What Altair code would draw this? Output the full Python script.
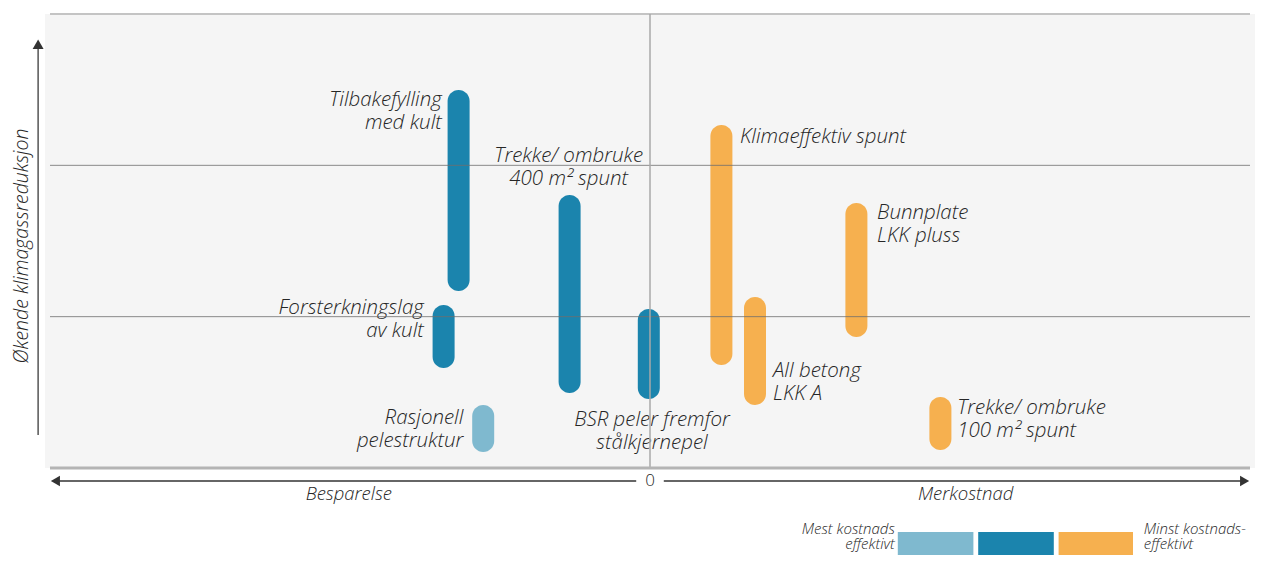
import altair as alt
import pandas as pd

# ---- data ----
names = ["Tilbakefylling med kult", "Forsterkningslag av kult", "Rasjonell pelestruktur",
         "Trekke/ ombruke 400 m² spunt", "BSR peler fremfor stålkjernepel",
         "Klimaeffektiv spunt", "All betong LKK A", "Bunnplate LKK pluss",
         "Trekke/ ombruke 100 m² spunt"]
cost = [-31.9, -34.4, -27.8, -13.4, -0.2, 11.9, 17.5, 34.4, 48.4]
red_low = [1.170, 0.661, 0.106, 0.496, 0.456, 0.681, 0.416, 0.866, 0.119]
red_high = [2.498, 1.077, 0.416, 1.804, 1.051, 2.267, 1.130, 1.751, 0.469]
group = ["Middels", "Middels", "Mest", "Middels", "Middels", "Minst", "Minst", "Minst", "Minst"]

label_text = ["Tilbakefylling\nmed kult", "Forsterkningslag\nav kult", "Rasjonell\npelestruktur",
              "Trekke/ ombruke\n400 m² spunt", "BSR peler fremfor\nstålkjernepel",
              "Klimaeffektiv spunt", "All betong\nLKK A", "Bunnplate\nLKK pluss",
              "Trekke/ ombruke\n100 m² spunt"]
label_x = [-34.7, -37.7, -31.1, -13.55, 0.33, 15.0, 20.5, 37.85, 51.2]
label_y = [2.432, 1.057, 0.330, 2.062, 0.317, 2.187, 0.641, 1.685, 0.396]
label_align = ["right", "right", "right", "center", "center", "left", "left", "left", "left"]

groups = ["Mest", "Middels", "Minst"]
colors = ["#7fb9cf", "#1b84ad", "#f6b04f"]
legend_x = [41.3, 54.7, 68.1]
legend_x2 = [53.9, 67.3, 80.5]

x_title_text = ["Besparelse", "Merkostnad"]
x_title_x = [-50.2, 52.6]

FONT = "Open Sans"
TXT = "#262626"

bars_df = pd.DataFrame({"name": names, "cost": cost, "lo": red_low, "hi": red_high, "group": group})
labels_df = pd.DataFrame({"text": label_text, "x": label_x, "y": label_y, "align": label_align})

xs = alt.Scale(domain=[-100, 100], nice=False, zero=False)
ys = alt.Scale(domain=[0, 3], nice=False, zero=False)
cs = alt.Scale(domain=groups, range=colors)

X = lambda f: alt.X(f, type="quantitative", scale=xs, axis=None)
Y = lambda f: alt.Y(f, type="quantitative", scale=ys, axis=None)

bars = alt.Chart(bars_df).mark_bar(size=22, cornerRadius=11).encode(
    x=X("cost"), y=Y("lo"), y2="hi",
    color=alt.Color("group:N", scale=cs, legend=None),
)

# grid lines (on top of bars)
hgrid_df = pd.DataFrame({"x": [-100, -100], "x2": [100, 100], "y": [1, 2]})
hgrid = alt.Chart(hgrid_df).mark_rule(color="#6e6e6e", strokeWidth=1, opacity=0.8).encode(
    x=X("x"), x2="x2", y=Y("y"))
vgrid_df = pd.DataFrame({"x": [0], "y": [0], "y2": [3]})
vgrid = alt.Chart(vgrid_df).mark_rule(color="#a8a8a8", strokeWidth=1.5).encode(
    x=X("x"), y=Y("y"), y2="y2")
top_df = pd.DataFrame({"x": [-100], "x2": [100], "y": [3]})
top_line = alt.Chart(top_df).mark_rule(color="#c4c4c4", strokeWidth=2).encode(
    x=X("x"), x2="x2", y=Y("y"))
bot_df = pd.DataFrame({"x": [-100], "x2": [100], "y": [0]})
bot_line = alt.Chart(bot_df).mark_rule(color="#b4b4b4", strokeWidth=3).encode(
    x=X("x"), x2="x2", y=Y("y"))

# labels
label_layers = []
for al in ["right", "center", "left"]:
    sub = labels_df[labels_df["align"] == al]
    label_layers.append(
        alt.Chart(sub).mark_text(align=al, baseline="middle", font=FONT, fontStyle="italic",
                                 fontWeight=300, fontSize=20.5, lineBreak="\n", lineHeight=23, color=TXT)
        .encode(x=X("x"), y=Y("y"), text="text:N"))

# x-axis arrow
AX_Y = -0.086
xarrow_df = pd.DataFrame({"x": [-98.8, 2.3], "x2": [-2.3, 98.8], "y": [AX_Y, AX_Y]})
xarrow = alt.Chart(xarrow_df).mark_rule(color="#333333", strokeWidth=1.5).encode(
    x=X("x"), x2="x2", y=Y("y"))
heads_df = pd.DataFrame({"x": [-99.1, 99.1], "y": [AX_Y, AX_Y], "shape": ["triangle-left", "triangle-right"]})
heads = alt.Chart(heads_df).mark_point(filled=True, size=110, color="#333333", opacity=1).encode(
    x=X("x"), y=Y("y"), shape=alt.Shape("shape:N", scale=None))
zero_df = pd.DataFrame({"x": [0], "y": [AX_Y], "t": ["0"]})
zero_txt = alt.Chart(zero_df).mark_text(font=FONT, fontSize=17, fontWeight=300, color=TXT, baseline="middle").encode(
    x=X("x"), y=Y("y"), text="t:N")
xt_df = pd.DataFrame({"x": x_title_x, "y": [-0.172, -0.172], "t": x_title_text})
xt = alt.Chart(xt_df).mark_text(font=FONT, fontSize=18.5, fontWeight=300, fontStyle="italic", color=TXT,
                                baseline="middle").encode(
    x=X("x"), y=Y("y"), text="t:N")

# y-axis arrow
AY_X = -101.98
yarrow_df = pd.DataFrame({"x": [AY_X], "y": [0.218], "y2": [2.80]})
yarrow = alt.Chart(yarrow_df).mark_rule(color="#555555", strokeWidth=1.5).encode(
    x=X("x"), y=Y("y"), y2="y2")
yhead_df = pd.DataFrame({"x": [AY_X], "y": [2.80]})
yhead = alt.Chart(yhead_df).mark_point(filled=True, size=120, shape="triangle-up", color="#333333", opacity=1).encode(
    x=X("x"), y=Y("y"))
yt_df = pd.DataFrame({"x": [-104.6], "y": [1.467], "t": ["Økende klimagassreduksjon"]})
yt = alt.Chart(yt_df).mark_text(font=FONT, fontSize=19.5, fontWeight=300, fontStyle="italic", color=TXT, angle=270,
                                baseline="middle", align="center").encode(
    x=X("x"), y=Y("y"), text="t:N")

# legend
leg_df = pd.DataFrame({"x": legend_x, "x2": legend_x2, "y": [-0.423] * 3, "y2": [-0.66] * 3, "group": groups})
leg = alt.Chart(leg_df).mark_rect().encode(
    x=X("x"), x2="x2", y=Y("y"), y2="y2", color=alt.Color("group:N", scale=cs, legend=None))
legl_df = pd.DataFrame({"x": [40.8], "y": [-0.403], "t": ["Mest kostnads\neffektivt"]})
legl = alt.Chart(legl_df).mark_text(font=FONT, fontSize=15, fontWeight=300, fontStyle="italic", color=TXT,
                                    align="right", baseline="middle", lineBreak="\n", lineHeight=15).encode(
    x=X("x"), y=Y("y"), text="t:N")
legr_df = pd.DataFrame({"x": [82.3], "y": [-0.403], "t": ["Minst kostnads-\neffektivt"]})
legr = alt.Chart(legr_df).mark_text(font=FONT, fontSize=15, fontWeight=300, fontStyle="italic", color=TXT,
                                    align="left", baseline="middle", lineBreak="\n", lineHeight=15).encode(
    x=X("x"), y=Y("y"), text="t:N")

chart = alt.layer(
    top_line, bars, *label_layers, hgrid, vgrid, bot_line,
    xarrow, heads, zero_txt, xt, yarrow, yhead, yt, leg, legl, legr,
).properties(
    width=1210, height=454,
    padding={"left": 37, "top": 6, "right": 9, "bottom": 87},
    autosize=alt.AutoSizeParams(type="none"),
    background="white",
).configure_view(fill="#f5f5f5", stroke=None)

chart.save("out.html", embed_options={"renderer": "svg", "actions": False})
